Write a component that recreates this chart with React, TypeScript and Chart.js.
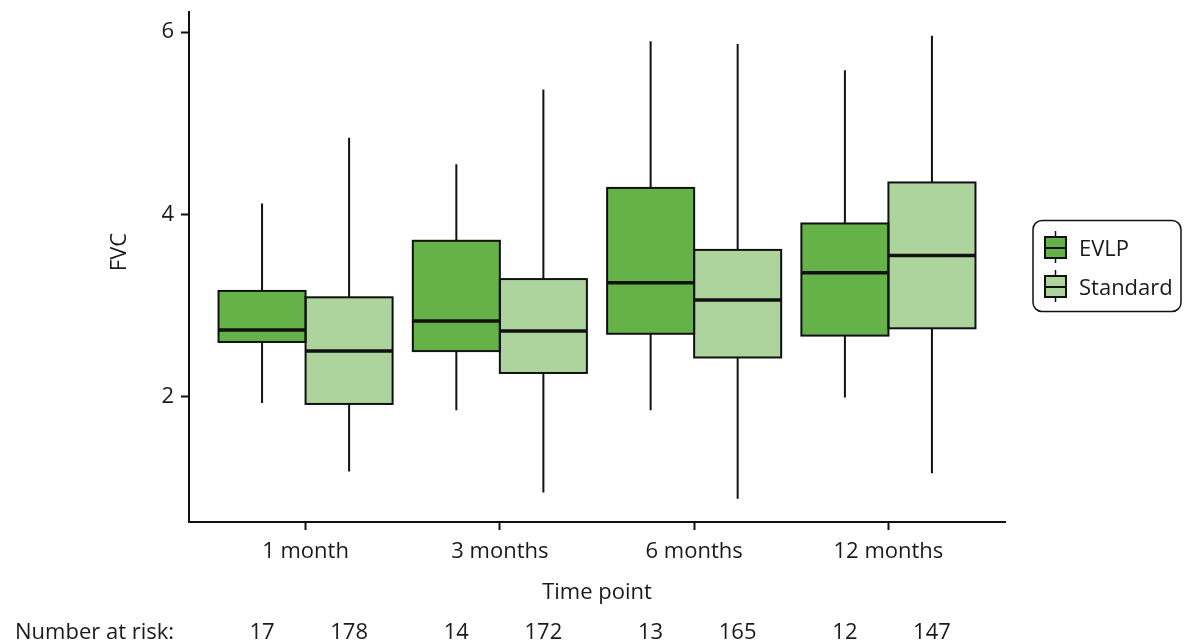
import React, { useEffect, useRef } from 'react';
import { Chart, registerables } from 'chart.js';

Chart.register(...registerables);

// ---- data ----
const categories = ['1 month', '3 months', '6 months', '12 months'];
const categoryPositions = [1, 2, 3, 4];
const seriesNames = ['EVLP', 'Standard'];

const evlpMin = [1.93, 1.85, 1.85, 1.99];
const evlpQ1 = [2.6, 2.5, 2.69, 2.67];
const evlpMedian = [2.73, 2.83, 3.25, 3.36];
const evlpQ3 = [3.16, 3.71, 4.29, 3.9];
const evlpMax = [4.12, 4.55, 5.9, 5.58];

const standardMin = [1.18, 0.95, 0.88, 1.16];
const standardQ1 = [1.92, 2.26, 2.43, 2.75];
const standardMedian = [2.5, 2.72, 3.06, 3.55];
const standardQ3 = [3.09, 3.29, 3.61, 4.35];
const standardMax = [4.84, 5.37, 5.87, 5.96];

const atRiskEvlp = [17, 14, 13, 12];
const atRiskStandard = [178, 172, 165, 147];

const yTicks = [2, 4, 6];

// ---- styles ----
const FONT_FAMILY = "'Open Sans', sans-serif";
const TEXT_COLOR = '#1a1a1a';
const LINE_COLOR = '#111111';
const EVLP_FILL = '#65b348';
const STANDARD_FILL = '#aed49e';

const boxPlugin = {
  id: 'boxExtras',
  beforeDatasetsDraw(chart: any) {
    const ctx = chart.ctx;
    const y = chart.scales.y;
    ctx.save();
    ctx.strokeStyle = LINE_COLOR;
    ctx.lineWidth = 2;
    chart.data.datasets.forEach((ds: any, di: number) => {
      const meta = chart.getDatasetMeta(di);
      meta.data.forEach((el: any, i: number) => {
        const x = el.x;
        ctx.beginPath();
        ctx.moveTo(x, y.getPixelForValue(ds.whiskerMax[i]));
        ctx.lineTo(x, y.getPixelForValue(ds.data[i].y[1]));
        ctx.moveTo(x, y.getPixelForValue(ds.data[i].y[0]));
        ctx.lineTo(x, y.getPixelForValue(ds.whiskerMin[i]));
        ctx.stroke();
      });
    });
    ctx.restore();
  },
  afterDatasetsDraw(chart: any) {
    const ctx = chart.ctx;
    const y = chart.scales.y;
    ctx.save();
    ctx.strokeStyle = LINE_COLOR;
    chart.data.datasets.forEach((ds: any, di: number) => {
      const meta = chart.getDatasetMeta(di);
      meta.data.forEach((el: any, i: number) => {
        const left = el.x - el.width / 2;
        const top = y.getPixelForValue(ds.data[i].y[1]);
        const bottom = y.getPixelForValue(ds.data[i].y[0]);
        ctx.lineWidth = 2;
        ctx.strokeRect(left, top, el.width, bottom - top);
        const my = y.getPixelForValue(ds.median[i]);
        ctx.lineWidth = 3.5;
        ctx.beginPath();
        ctx.moveTo(left, my);
        ctx.lineTo(left + el.width, my);
        ctx.stroke();
      });
    });
    ctx.restore();
  },
  afterDraw(chart: any) {
    const ctx = chart.ctx;
    ctx.save();
    ctx.fillStyle = TEXT_COLOR;
    ctx.font = `22px ${FONT_FAMILY}`;

    // y-axis title
    ctx.save();
    ctx.translate(120, 252);
    ctx.rotate(-Math.PI / 2);
    ctx.textAlign = 'center';
    ctx.textBaseline = 'middle';
    ctx.fillText('FVC', 0, 0);
    ctx.restore();

    // number at risk row
    ctx.textBaseline = 'middle';
    ctx.textAlign = 'left';
    ctx.fillText('Number at risk:', 15, 633);
    ctx.textAlign = 'center';
    const risk = [atRiskEvlp, atRiskStandard];
    chart.data.datasets.forEach((_ds: any, di: number) => {
      const meta = chart.getDatasetMeta(di);
      meta.data.forEach((el: any, i: number) => {
        ctx.fillText(String(risk[di][i]), el.x, 633);
      });
    });

    // legend
    ctx.strokeStyle = LINE_COLOR;
    ctx.lineWidth = 1.5;
    ctx.beginPath();
    (ctx as any).roundRect(1033, 220.5, 148, 91, 9);
    ctx.stroke();
    const fills = [EVLP_FILL, STANDARD_FILL];
    const rowY = [248, 287];
    seriesNames.forEach((name, k) => {
      const cy = rowY[k];
      const cx = 1055.5;
      ctx.strokeStyle = LINE_COLOR;
      ctx.lineWidth = 1.5;
      ctx.beginPath();
      ctx.moveTo(cx, cy - 17);
      ctx.lineTo(cx, cy + 15);
      ctx.stroke();
      ctx.fillStyle = fills[k];
      ctx.fillRect(1045, cy - 11, 21, 21);
      ctx.lineWidth = 2;
      ctx.strokeRect(1045, cy - 11, 21, 21);
      ctx.beginPath();
      ctx.moveTo(1045, cy);
      ctx.lineTo(1066, cy);
      ctx.stroke();
      ctx.fillStyle = TEXT_COLOR;
      ctx.textAlign = 'left';
      ctx.textBaseline = 'middle';
      ctx.fillText(name, 1079, cy + 2);
    });
    ctx.restore();
  },
};

export default function App() {
  const ref = useRef<HTMLCanvasElement>(null);

  useEffect(() => {
    const font = { family: FONT_FAMILY, size: 22, lineHeight: 1.2 };
    const chart = new Chart(ref.current as HTMLCanvasElement, {
      type: 'bar',
      data: {
        datasets: [
          {
            label: seriesNames[0],
            data: categoryPositions.map((x, i) => ({ x, y: [evlpQ1[i], evlpQ3[i]] })),
            backgroundColor: EVLP_FILL,
            borderWidth: 0,
            categoryPercentage: 0.896,
            barPercentage: 1,
            median: evlpMedian,
            whiskerMin: evlpMin,
            whiskerMax: evlpMax,
          } as any,
          {
            label: seriesNames[1],
            data: categoryPositions.map((x, i) => ({ x, y: [standardQ1[i], standardQ3[i]] })),
            backgroundColor: STANDARD_FILL,
            borderWidth: 0,
            categoryPercentage: 0.896,
            barPercentage: 1,
            median: standardMedian,
            whiskerMin: standardMin,
            whiskerMax: standardMax,
          } as any,
        ],
      },
      options: {
        responsive: false,
        animation: false,
        devicePixelRatio: 1,
        layout: { padding: { left: 0, top: 12, right: 179, bottom: 37 } },
        plugins: { legend: { display: false }, tooltip: { enabled: false } },
        scales: {
          x: {
            type: 'linear',
            min: 0.4,
            max: 4.6,
            offset: false,
            grid: {
              display: true,
              offset: false,
              drawOnChartArea: false,
              drawTicks: true,
              tickLength: 8,
              tickWidth: 2,
              tickColor: LINE_COLOR,
            },
            border: { display: true, color: LINE_COLOR, width: 2 },
            ticks: {
              font,
              color: TEXT_COLOR,
              padding: 9,
              autoSkip: false,
              maxRotation: 0,
              callback: (v: any) => {
                const idx = categoryPositions.indexOf(Number(v));
                return idx >= 0 ? categories[idx] : '';
              },
            },
            afterBuildTicks: (s: any) => {
              s.ticks = categoryPositions.map((v) => ({ value: v }));
            },
            afterFit: (s: any) => {
              s.height = 84;
              s.paddingLeft = 0;
              s.paddingRight = 0;
            },
            title: { display: true, text: 'Time point', font, color: TEXT_COLOR, padding: 0 },
          } as any,
          y: {
            type: 'linear',
            min: 0.625,
            max: 6.22,
            grid: {
              display: true,
              drawOnChartArea: false,
              drawTicks: true,
              tickLength: 8,
              tickWidth: 2,
              tickColor: LINE_COLOR,
            },
            border: { display: true, color: LINE_COLOR, width: 2 },
            ticks: { font, color: TEXT_COLOR, padding: 7 },
            afterBuildTicks: (s: any) => {
              s.ticks = yTicks.map((v) => ({ value: v }));
            },
            afterFit: (s: any) => {
              s.width = 189;
              s.paddingTop = 0;
              s.paddingBottom = 0;
            },
          } as any,
        },
      },
      plugins: [boxPlugin],
    });
    return () => chart.destroy();
  }, []);

  return (
    <div style={{ position: 'absolute', left: 0, top: 0, width: 1184, height: 643, background: '#fff' }}>
      <canvas ref={ref} width={1184} height={643} style={{ display: 'block' }} />
    </div>
  );
}
